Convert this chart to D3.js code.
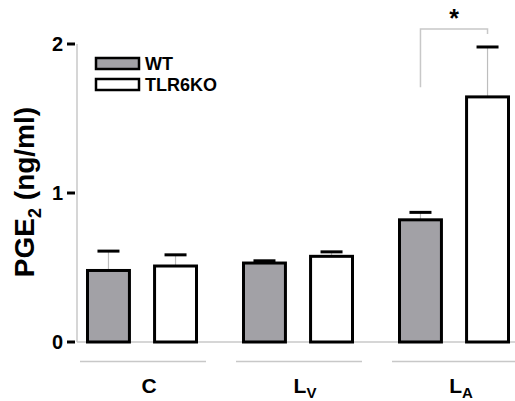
<!DOCTYPE html>
<html>
<head>
<meta charset="utf-8">
<script src="https://cdn.jsdelivr.net/npm/d3@7"></script>
<style>
  body { margin: 0; background: #fff; }
  text { font-family: "Liberation Sans", Arial, sans-serif; font-weight: bold; }
</style>
</head>
<body>
<div id="chart"></div>
<script>
// data
var groups = ["C", "LV", "LA"];
var series = ["WT", "TLR6KO"];
var wtMean = [0.48, 0.53, 0.82];
var wtErr = [0.13, 0.015, 0.05];
var koMean = [0.51, 0.575, 1.645];
var koErr = [0.075, 0.03, 0.335];
var yTicks = [0, 1, 2];

var margin = { top: 44, right: 0, bottom: 59, left: 77 },
    width = 515 - margin.left - margin.right,
    height = 401 - margin.top - margin.bottom;

var svg = d3.select("#chart")
    .append("svg")
    .attr("width", 515)
    .attr("height", 401)
    .append("g")
    .attr("transform", "translate(" + margin.left + "," + margin.top + ")");

var y = d3.scaleLinear().domain([0, 2]).range([height, 0]);

var x0 = d3.scaleBand().domain(groups).range([0, 468]).paddingInner(0.0);
var x1 = d3.scaleBand().domain(series).range([9, 121]).paddingInner(0.33);

var fills = { WT: "#a2a1a6", TLR6KO: "#ffffff" };

// axes lines
svg.append("line")
    .attr("x1", 0).attr("x2", 0)
    .attr("y1", y(2)).attr("y2", y(0))
    .attr("stroke", "#c8c8c8").attr("stroke-width", 1.5);
svg.append("line")
    .attr("x1", 0).attr("x2", width)
    .attr("y1", y(0)).attr("y2", y(0))
    .attr("stroke", "#c8c8c8").attr("stroke-width", 1.5);

// y ticks
svg.selectAll(".tick").data(yTicks).enter()
    .append("line")
    .attr("x1", -10).attr("x2", -2)
    .attr("y1", d => y(d)).attr("y2", d => y(d))
    .attr("stroke", "#000").attr("stroke-width", 3);
svg.selectAll(".ytl").data(yTicks).enter()
    .append("text")
    .attr("x", -14)
    .attr("y", d => y(d))
    .attr("dy", "0.36em")
    .attr("text-anchor", "end")
    .style("font-size", "20px")
    .text(d => d);

// y label
svg.append("text")
    .attr("transform", "translate(" + (-43) + "," + (y(1) - 1) + ") rotate(-90)")
    .attr("text-anchor", "middle")
    .style("font-size", "28px")
    .html('PGE<tspan dy="7" style="font-size:18px">2</tspan><tspan dy="-7"> (ng/ml)</tspan>');

// bars
var rows = [];
groups.forEach(function (g, i) {
    rows.push({ g: g, s: "WT", v: wtMean[i], e: wtErr[i] });
    rows.push({ g: g, s: "TLR6KO", v: koMean[i], e: koErr[i] });
});

var bx = d => x0(d.g) + x1(d.s);
var bw = x1.bandwidth();

// error stems
svg.selectAll(".stem").data(rows).enter()
    .append("line")
    .attr("x1", d => bx(d) + bw / 2).attr("x2", d => bx(d) + bw / 2)
    .attr("y1", d => y(d.v)).attr("y2", d => y(d.v + d.e))
    .attr("stroke", "#bdbdbd").attr("stroke-width", 1.2);
svg.selectAll(".cap").data(rows).enter()
    .append("line")
    .attr("x1", d => bx(d) + bw / 2 - 11).attr("x2", d => bx(d) + bw / 2 + 11)
    .attr("y1", d => y(d.v + d.e)).attr("y2", d => y(d.v + d.e))
    .attr("stroke", "#000").attr("stroke-width", 3);

svg.selectAll(".bar").data(rows).enter()
    .append("rect")
    .attr("x", d => bx(d) + 1.5)
    .attr("y", d => y(d.v))
    .attr("width", bw - 3)
    .attr("height", d => y(0) - y(d.v))
    .attr("fill", d => fills[d.s])
    .attr("stroke", "#000")
    .attr("stroke-width", 3);

// group underlines and labels
svg.selectAll(".gline").data(groups).enter()
    .append("line")
    .attr("x1", d => x0(d) + 3).attr("x2", d => x0(d) + 129)
    .attr("y1", height + 19.5).attr("y2", height + 19.5)
    .attr("stroke", "#c8c8c8").attr("stroke-width", 1.5);

var gl = svg.selectAll(".glab").data(groups).enter()
    .append("text")
    .attr("x", d => x0(d) + 72)
    .attr("y", height + 51)
    .attr("text-anchor", "middle")
    .style("font-size", "21px");
gl.append("tspan").text(d => d[0]);
gl.append("tspan").attr("dy", 5).style("font-size", "15px").text(d => d.slice(1));

// significance bracket
var la = groups[2];
var bxL = x0(la) + x1("WT") + bw / 2, bxR = x0(la) + x1("TLR6KO") + bw / 2;
svg.append("path")
    .attr("d", "M" + bxL + "," + y(1.71) + "V" + y(2.1) + "H" + bxR + "V" + (y(2.1) + 5))
    .attr("fill", "none").attr("stroke", "#c8c8c8").attr("stroke-width", 1.5);
svg.append("text")
    .attr("x", (bxL + bxR) / 2)
    .attr("y", y(2.1) - 2)
    .attr("text-anchor", "middle")
    .style("font-size", "25px")
    .text("*");

// legend
var leg = svg.selectAll(".leg").data(series).enter()
    .append("g")
    .attr("transform", (d, i) => "translate(19," + (14 + i * 21) + ")");
leg.append("rect")
    .attr("width", 43).attr("height", 11)
    .attr("fill", d => fills[d])
    .attr("stroke", "#000").attr("stroke-width", 2.5);
leg.append("text")
    .attr("x", 49).attr("y", 6)
    .attr("dy", "0.36em")
    .style("font-size", "18px")
    .text(d => d);
</script>
</body>
</html>
